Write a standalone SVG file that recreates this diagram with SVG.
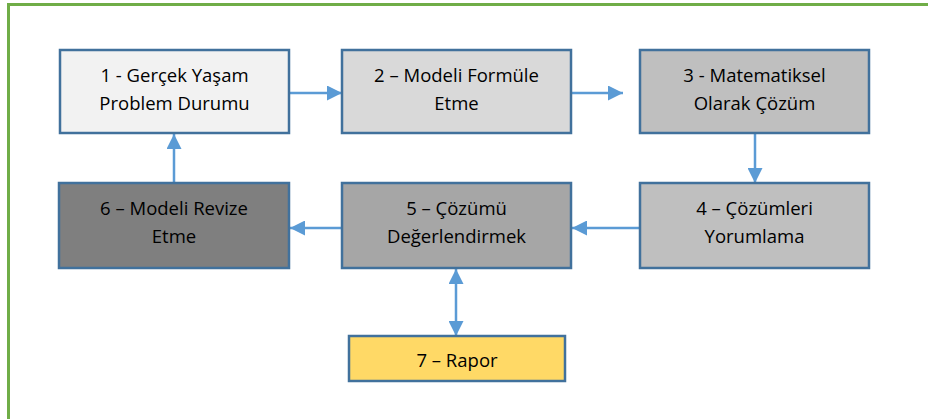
<svg xmlns="http://www.w3.org/2000/svg" width="928" height="419" viewBox="0 0 928 419">
<defs>
<style>
.box{stroke:#41719c;stroke-width:2.5}
.t{font-family:"Open Sans","Liberation Sans",sans-serif;font-size:18.5px;fill:#000;text-anchor:middle}
.c{stroke:#5b9bd5;stroke-width:2.5;fill:none}
</style>
<marker id="ah" viewBox="0 0 10 10" refX="10" refY="5" markerWidth="6" markerHeight="6" orient="auto-start-reverse" markerUnits="strokeWidth">
<path d="M0,0 L10,5 L0,10 Z" fill="#5b9bd5"/>
</marker>
</defs>
<rect x="0" y="0" width="928" height="419" fill="#fff"/>
<rect x="8.5" y="4.5" width="930" height="430" fill="none" stroke="#70ad47" stroke-width="3"/>
<g id="connectors">
<line class="c" x1="289" y1="93" x2="342" y2="93" marker-end="url(#ah)"/>
<line class="c" x1="571" y1="93" x2="623" y2="93" marker-end="url(#ah)"/>
<line class="c" x1="755" y1="133" x2="755" y2="183" marker-end="url(#ah)"/>
<line class="c" x1="640" y1="228" x2="572" y2="228" marker-end="url(#ah)"/>
<line class="c" x1="342" y1="228" x2="290" y2="228" marker-end="url(#ah)"/>
<line class="c" x1="174" y1="183" x2="174" y2="134" marker-end="url(#ah)"/>
<line class="c" x1="456" y1="269" x2="456" y2="336" marker-start="url(#ah)" marker-end="url(#ah)"/>
</g>
<g id="node1">
<rect class="box" x="60" y="50" width="229" height="83" fill="#f2f2f2"/>
<text class="t" x="174.5" y="82">1 - Gerçek Yaşam</text>
<text class="t" x="174.5" y="110">Problem Durumu</text>
</g>
<g id="node2">
<rect class="box" x="342" y="50" width="229" height="83" fill="#d9d9d9"/>
<text class="t" x="456.5" y="82">2 – Modeli Formüle</text>
<text class="t" x="456.5" y="110">Etme</text>
</g>
<g id="node3">
<rect class="box" x="640" y="50" width="229" height="83" fill="#bfbfbf"/>
<text class="t" x="754.5" y="82">3 - Matematiksel</text>
<text class="t" x="754.5" y="110">Olarak Çözüm</text>
</g>
<g id="node4">
<rect class="box" x="640" y="183" width="229" height="85" fill="#bfbfbf"/>
<text class="t" x="754.5" y="215">4 – Çözümleri</text>
<text class="t" x="754.5" y="243">Yorumlama</text>
</g>
<g id="node5">
<rect class="box" x="342" y="183" width="229" height="85" fill="#a6a6a6"/>
<text class="t" x="456.5" y="215">5 – Çözümü</text>
<text class="t" x="456.5" y="243">Değerlendirmek</text>
</g>
<g id="node6">
<rect class="box" x="59" y="183" width="230" height="85" fill="#7f7f7f"/>
<text class="t" x="174" y="215">6 – Modeli Revize</text>
<text class="t" x="174" y="243">Etme</text>
</g>
<g id="node7">
<rect class="box" x="349" y="336" width="216" height="45" fill="#ffd966"/>
<text class="t" x="457" y="367">7 – Rapor</text>
</g>
</svg>
